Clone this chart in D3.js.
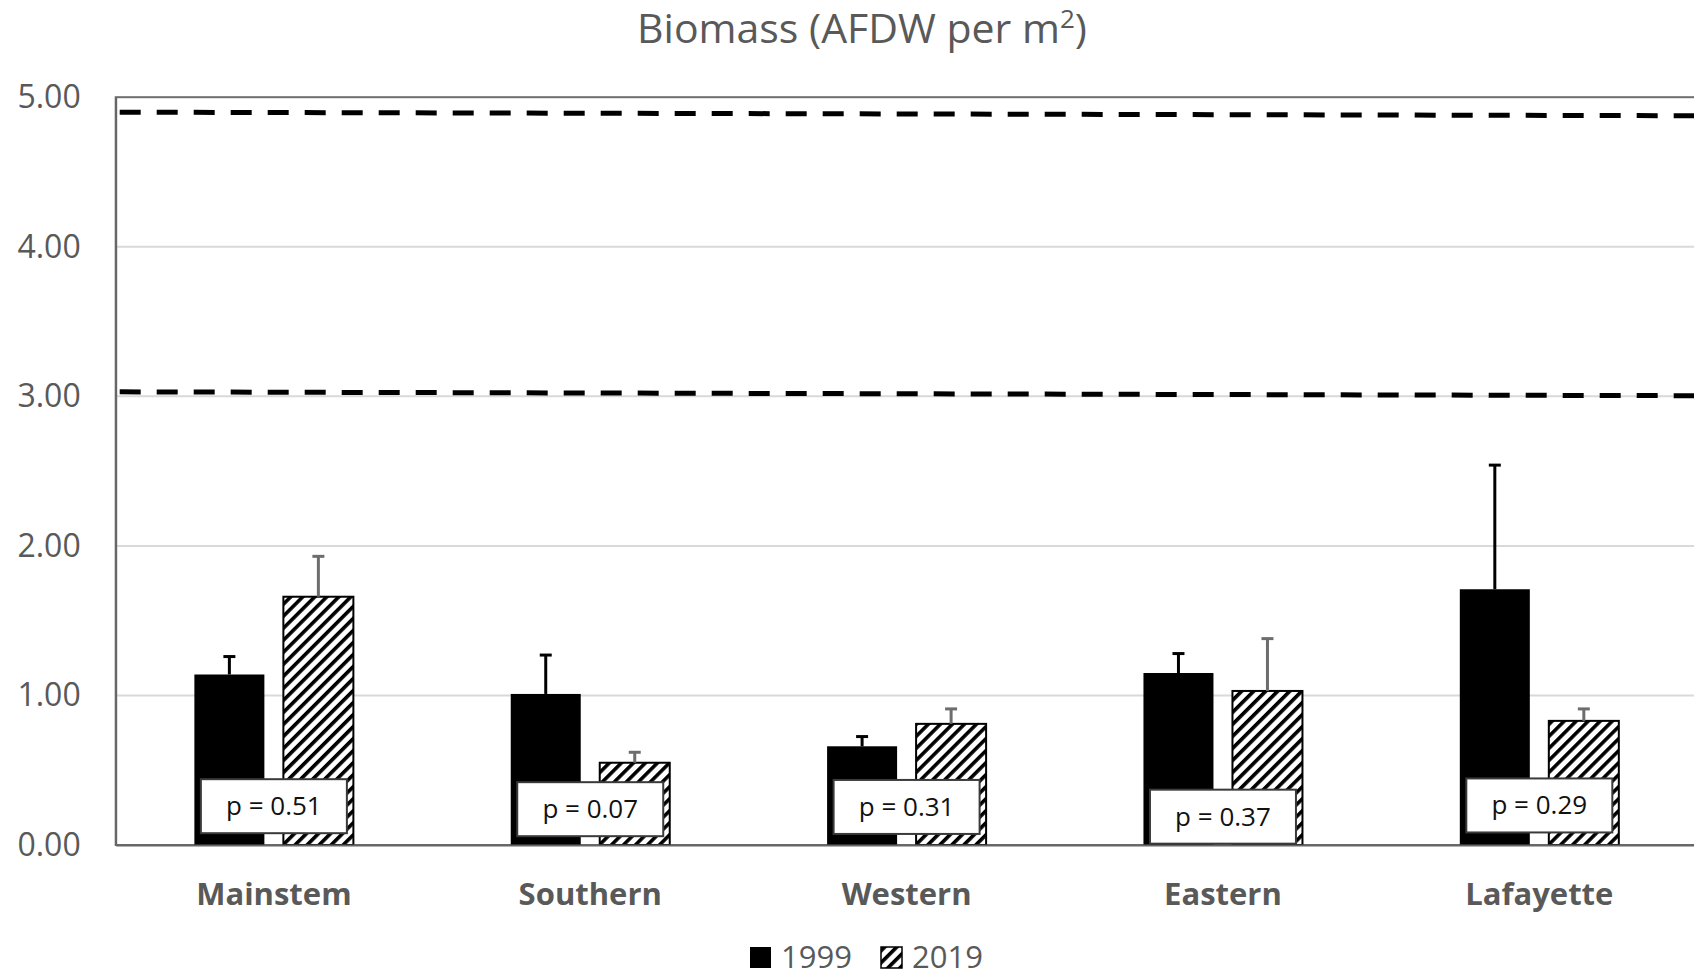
<!DOCTYPE html>
<html lang="en">
<head>
<meta charset="UTF-8">
<title>Biomass</title>
<script src="https://cdnjs.cloudflare.com/ajax/libs/d3/7.8.5/d3.min.js"></script>
<style>
    body { margin: 0; background: #fff; }
    svg { display: block; font-family: 'Open Sans', 'Noto Sans', sans-serif; }
</style>
</head>
<body>
<svg id="chart" width="1694" height="977"></svg>
<script>
    // chart values
    var sites = ["Mainstem", "Southern", "Western", "Eastern", "Lafayette"];
    var years = ["1999", "2019"];
    var mean1999 = [1.14, 1.01, 0.66, 1.15, 1.71];
    var err1999 = [0.12, 0.26, 0.065, 0.13, 0.83];
    var mean2019 = [1.66, 0.55, 0.81, 1.03, 0.83];
    var err2019 = [0.27, 0.07, 0.10, 0.35, 0.08];
    var pValues = [0.51, 0.07, 0.31, 0.37, 0.29];
    var pBoxTop = [0.44, 0.42, 0.435, 0.37, 0.445];   // where each p label sits, in y units
    var upperRef = [4.90, 4.876];
    var lowerRef = [3.03, 3.004];
    var yTicks = [0, 1, 2, 3, 4, 5];

    var plotL = 115.7, plotR = 1697.5, plotT = 97.2, plotB = 845;
    var grey = "#595959";

    var svg = d3.select("#chart");

    var y = d3.scaleLinear().domain([0, 5]).range([plotB, plotT]);
    var x0 = d3.scaleBand().domain(sites).range([plotL, plotR]);
    var x1 = d3.scaleBand().domain(years).range([0, x0.bandwidth()])
        .paddingInner(19 / 89).paddingOuter(0.884);
    var xr = d3.scaleLinear().domain([0, 1]).range([plotL, plotR]);

    // hatch
    var defs = svg.append("defs");
    var pat = defs.append("pattern")
        .attr("id", "hatch")
        .attr("patternUnits", "userSpaceOnUse")
        .attr("width", 8.5).attr("height", 8.5)
        .attr("patternTransform", "rotate(45)");
    pat.append("rect").attr("width", 8.5).attr("height", 8.5).attr("fill", "#fff");
    pat.append("rect").attr("width", 3.6).attr("height", 8.5).attr("fill", "#000");

    // title
    var title = svg.append("text")
        .attr("x", 862).attr("y", 43)
        .attr("text-anchor", "middle")
        .attr("fill", grey)
        .style("font-size", "41px");
    title.append("tspan").text("Biomass (AFDW per m");
    title.append("tspan").attr("dy", -15).style("font-size", "26px").text("2");
    title.append("tspan").attr("dy", 15).text(")");

    // gridlines
    svg.append("g").selectAll("line")
        .data(yTicks.slice(1, -1))
        .enter().append("line")
        .attr("x1", plotL).attr("x2", plotR)
        .attr("y1", d => y(d)).attr("y2", d => y(d))
        .attr("stroke", "#d9d9d9").attr("stroke-width", 2);

    // plot border
    svg.append("rect")
        .attr("x", plotL).attr("y", plotT)
        .attr("width", plotR - plotL).attr("height", plotB - plotT)
        .attr("fill", "none").attr("stroke", "#6e6e6e").attr("stroke-width", 2);

    // y axis
    var yAxis = svg.append("g")
        .attr("transform", "translate(" + plotL + ",0)")
        .call(d3.axisLeft(y).tickValues(yTicks).tickFormat(d3.format(".2f")).tickSize(0).tickPadding(35));
    yAxis.select(".domain").attr("stroke", "#666").attr("stroke-width", 2);
    yAxis.selectAll("text").attr("fill", grey).style("font-size", "32px").style("font-family", "'Open Sans', sans-serif");

    // reference dashed lines
    var refLine = d3.line().x((d, i) => xr(i)).y(d => y(d));
    [upperRef, lowerRef].forEach(function (r) {
        svg.append("path")
            .attr("d", refLine(r))
            .attr("fill", "none")
            .attr("stroke", "#000")
            .attr("stroke-width", 5)
            .attr("stroke-dasharray", "21,16")
            .attr("stroke-dashoffset", -4);
    });

    // bars
    var rows = sites.map((s, i) => ({
        site: s,
        vals: [
            { year: "1999", v: mean1999[i], e: err1999[i] },
            { year: "2019", v: mean2019[i], e: err2019[i] }
        ]
    }));

    var groups = svg.append("g").selectAll("g")
        .data(rows)
        .enter().append("g")
        .attr("transform", d => "translate(" + x0(d.site) + ",0)");

    groups.selectAll("rect")
        .data(d => d.vals)
        .enter().append("rect")
        .attr("x", d => x1(d.year))
        .attr("y", d => y(d.v))
        .attr("width", x1.bandwidth())
        .attr("height", d => y(0) - y(d.v))
        .attr("fill", d => d.year == "1999" ? "#000" : "url(#hatch)")
        .attr("stroke", "#000")
        .attr("stroke-width", d => d.year == "1999" ? 0 : 2);

    // error bars
    var eb = groups.selectAll("g.err")
        .data(d => d.vals)
        .enter().append("g")
        .attr("class", "err")
        .attr("stroke", d => d.year == "1999" ? "#000" : "#6d6d6d")
        .attr("stroke-width", 3);
    eb.append("line")
        .attr("x1", d => x1(d.year) + x1.bandwidth() / 2)
        .attr("x2", d => x1(d.year) + x1.bandwidth() / 2)
        .attr("y1", d => y(d.v))
        .attr("y2", d => y(d.v + d.e));
    eb.append("line")
        .attr("x1", d => x1(d.year) + x1.bandwidth() / 2 - 6)
        .attr("x2", d => x1(d.year) + x1.bandwidth() / 2 + 6)
        .attr("y1", d => y(d.v + d.e))
        .attr("y2", d => y(d.v + d.e));

    // bottom axis
    var xAxis = svg.append("g")
        .attr("transform", "translate(0," + plotB + ")")
        .call(d3.axisBottom(x0).tickSize(0).tickPadding(38));
    xAxis.select(".domain").attr("stroke", "#666").attr("stroke-width", 2);
    xAxis.selectAll("text")
        .attr("fill", grey)
        .style("font-size", "31px")
        .style("font-weight", "bold")
        .style("font-family", "'Open Sans', sans-serif");

    // p value boxes
    var boxW = 146, boxH = 54;
    var pb = svg.append("g").selectAll("g")
        .data(sites)
        .enter().append("g")
        .attr("transform", (d, i) => "translate(" + (x0(d) + x0.bandwidth() / 2) + "," + y(pBoxTop[i]) + ")");
    pb.append("rect")
        .attr("x", -boxW / 2).attr("y", 0)
        .attr("width", boxW).attr("height", boxH)
        .attr("fill", "#fff")
        .attr("stroke", "#3a3a3a").attr("stroke-width", 2);
    pb.append("text")
        .attr("x", 0).attr("y", boxH / 2 + 9)
        .attr("text-anchor", "middle")
        .style("font-size", "26px")
        .attr("fill", "#111")
        .text((d, i) => "p = " + d3.format(".2f")(pValues[i]));

    // legend
    var legend = svg.append("g").attr("transform", "translate(750,947)");
    legend.append("rect").attr("width", 21).attr("height", 21).attr("fill", "#000");
    legend.append("text").attr("x", 31).attr("y", 21).attr("fill", grey)
        .style("font-size", "31px").text("1999");
    legend.append("rect").attr("x", 131).attr("width", 21).attr("height", 21)
        .attr("fill", "url(#hatch)").attr("stroke", "#000").attr("stroke-width", 1.5);
    legend.append("text").attr("x", 162).attr("y", 21).attr("fill", grey)
        .style("font-size", "31px").text("2019");
</script>
</body>
</html>
